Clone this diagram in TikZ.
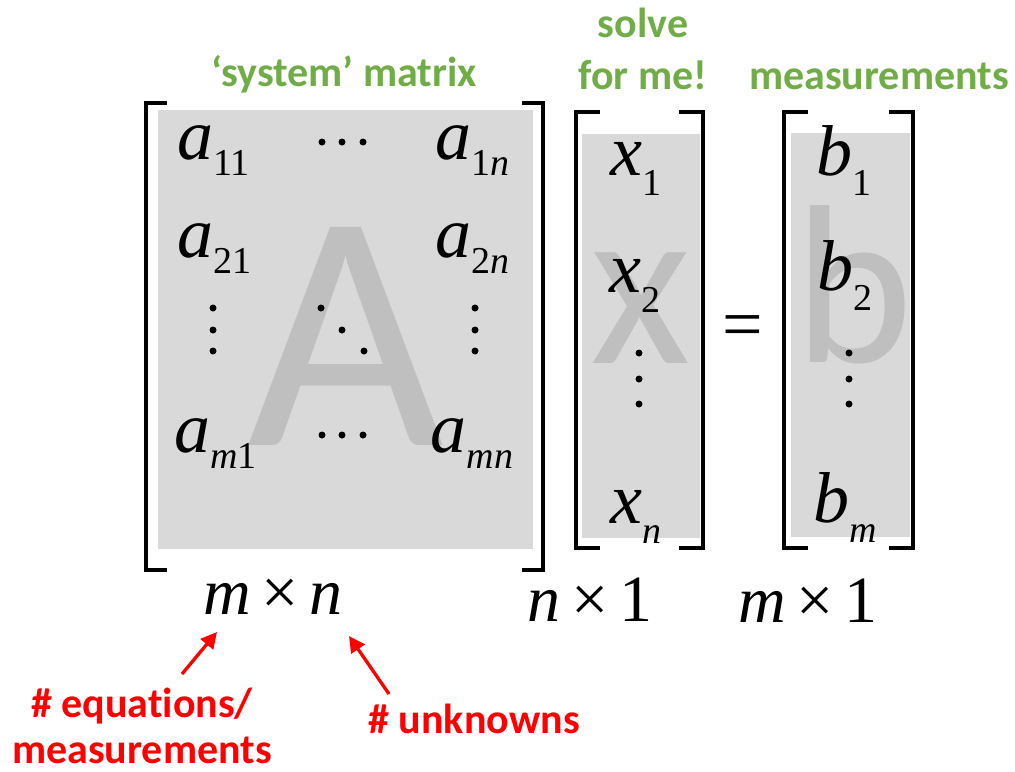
\documentclass[tikz,border=0pt]{standalone}
\usepackage{fontspec}
\setmainfont{Liberation Serif}
\newfontfamily\rotulo[Ligatures=NoCommon]{Carlito}
\usetikzlibrary{arrows.meta}
\definecolor{verde}{HTML}{70AD47}
\definecolor{vermelho}{HTML}{FF0000}
\definecolor{caixa}{HTML}{D9D9D9}
\definecolor{letra}{HTML}{BFBFBF}
% italic letter with a lowered subscript
\newcommand{\ent}[3][8pt]{\textit{#2}\raisebox{-#1}{\fontsize{19}{19}\selectfont #3}}
% left and right bracket: x left, x right, y top, y bottom, serif
\newcommand{\colchetes}[5]{%
  \draw[colchete] (#1+#5,#3) -- (#1,#3) -- (#1,#4) -- (#1+#5,#4);
  \draw[colchete] (#2-#5,#3) -- (#2,#3) -- (#2,#4) -- (#2-#5,#4);
}
\tikzset{
  painel/.style={fill=caixa, draw=none},
  colchete/.style={black, line width=1.65pt},
  letrao/.style={anchor=base, inner sep=0pt, text=letra},
  entrada/.style={anchor=base, inner sep=0pt, font=\fontsize{36}{40}\selectfont},
  dimensao/.style={anchor=base, inner sep=0pt, font=\fontsize{33}{38}\selectfont},
  titulo/.style={anchor=base, inner sep=0pt, align=center, text=verde, font=\rotulo\bfseries\fontsize{21}{26}\selectfont},
  nota/.style={anchor=base, inner sep=0pt, align=center, text=vermelho, font=\rotulo\bfseries\fontsize{21}{23}\selectfont},
  seta/.style={-{Triangle[length=8pt, width=8pt]}, vermelho, line width=1.65pt},
}

\begin{document}
\begin{tikzpicture}[x=0.5pt, y=-0.5pt]
  \useasboundingbox (0,0) rectangle (1015,771);

  % ---------------- matriz A ----------------
  \fill[painel] (158,110) rectangle (533,549);
  \node[letrao, font=\rotulo\fontsize{170}{170}\selectfont] (bigA) at (346,445) {A};
  \colchetes{146}{543}{103}{570}{21}
  \node[entrada, anchor=base west] (a11) at (177,159) {\ent{a}{11}};
  \node[entrada, anchor=base west] (a21) at (177,257) {\ent{a}{21}};
  \node[entrada, anchor=base west] (am1) at (174,452) {\ent{a}{\textit{m}1}};
  \node[entrada] (a1n) at (472,159) {\ent{a}{1\textit{n}}};
  \node[entrada] (a2n) at (472,257) {\ent{a}{2\textit{n}}};
  \node[entrada] (amn) at (472,452) {\ent{a}{\textit{mn}}};
  \foreach \x in {322,342,363} { \fill (\x,142) circle[radius=1.75pt]; \fill (\x,435) circle[radius=1.75pt]; }
  \foreach \y in {308,330,351} { \fill (213,\y) circle[radius=1.75pt]; \fill (475,\y) circle[radius=1.75pt]; }
  \foreach \x/\y in {321/308,342/330,364/351} { \fill (\x,\y) circle[radius=1.75pt]; }

  % ---------------- vetor x ----------------
  \fill[painel] (582,134) rectangle (700,538);
  \node[letrao, font=\rotulo\fontsize{116}{116}\selectfont] (bigx) at (641,363) {x};
  \colchetes{576}{703}{112}{548}{24}
  \node[entrada] (x1) at (636,175) {\ent[10pt]{x}{1}};
  \node[entrada] (x2) at (635,292) {\ent[10pt]{x}{2}};
  \node[entrada] (xn) at (636,523) {\ent[10pt]{x}{\textit{n}}};
  \foreach \y in {353,379,404} { \fill (639,\y) circle[radius=1.75pt]; }

  \node[entrada] (igual) at (743,348) {=};

  % ---------------- vetor b ----------------
  \fill[painel] (791,133) rectangle (910,537);
  \node[letrao, font=\rotulo\fontsize{113}{113}\selectfont] (bigb) at (854,362) {b};
  \colchetes{784}{913}{112}{548}{24}
  \node[entrada] (b1) at (844,175) {\ent[10pt]{b}{1}};
  \node[entrada] (b2) at (845,290) {\ent[10pt]{b}{2}};
  \node[entrada] (bm) at (845,522) {\ent[10pt]{b}{\textit{m}}};
  \foreach \y in {353,379,404} { \fill (849,\y) circle[radius=1.75pt]; }

  % ---------------- dimensoes ----------------
  \node[dimensao] (dimA) at (273,614) {\textit{m}\,×\,\textit{n}};
  \node[dimensao] (dimx) at (590,621) {\textit{n}\,×\,1};
  \node[dimensao] (dimb) at (808,622) {\textit{m}\,×\,1};

  % ---------------- rotulos ----------------
  \node[titulo] (tsys) at (344,86) {‘system’ matrix};
  \node[titulo] (tsolve) at (643,89) {solve\\for me!};
  \node[titulo] (tmeas) at (879,89) {measurements};
  \node[nota] (neq) at (142,763) {\# equations/\\measurements};
  \node[nota] (nunk) at (474,733) {\# unknowns};
  \coordinate (eqtail) at (182,674);
  \coordinate (eqtip) at (217,632);
  \coordinate (unktail) at (389,694);
  \coordinate (unktip) at (349,636);
  \draw[seta] (eqtail) -- (eqtip);
  \draw[seta] (unktail) -- (unktip);
\end{tikzpicture}
\end{document}
